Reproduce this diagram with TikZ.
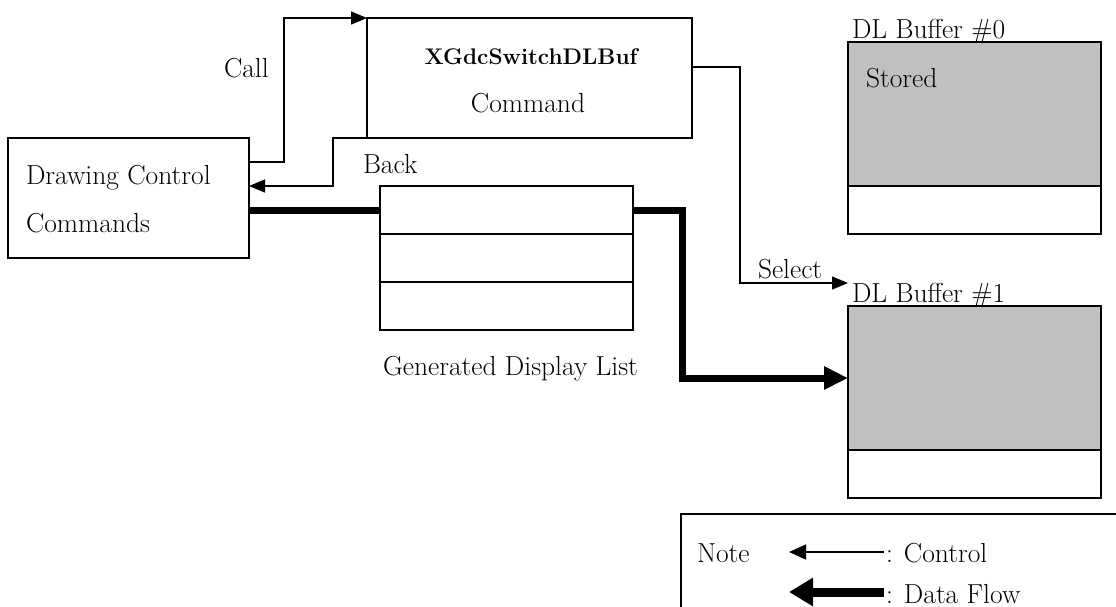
\documentclass[tikz,border=0pt]{standalone}
\usepackage{fontspec}
\usetikzlibrary{arrows.meta}
\definecolor{bufgray}{HTML}{C0C0C0}
\tikzset{
  box/.style={draw, line width=1.4pt, anchor=north west, inner sep=0pt, outer sep=0pt},
  bufbox/.style={box, line width=1.8pt, minimum width=253pt},
  lbl/.style={anchor=base west, inner sep=0pt, outer sep=0pt, font=\fontsize{27.5}{32}\selectfont},
  ctl/.style={line width=1.3pt, -{Triangle[length=16pt,width=13pt]}},
  datline/.style={line width=7pt},
  dat/.style={datline, -{Triangle[length=24pt,width=22pt]}},
}
\begin{document}
\begin{tikzpicture}[x=1pt, y=-1pt]
\useasboundingbox (0,0) rectangle (1116,606);

% boxes
\node[box, minimum width=241pt, minimum height=120pt] (dc) at (8,138) {};
\node[box, minimum width=325pt, minimum height=120pt] (cmd) at (367,18) {};
\node[box, minimum width=253pt, minimum height=48pt] (dla) at (380,186) {};
\node[box, minimum width=253pt, minimum height=48pt] (dlb) at (380,234) {};
\node[box, minimum width=253pt, minimum height=48pt] (dlc) at (380,282) {};
\node[bufbox, fill=bufgray, minimum height=144pt] (bufAtop) at (848,42) {};
\node[bufbox, minimum height=48pt] (bufAbot) at (848,186) {};
\node[bufbox, fill=bufgray, minimum height=144pt] (bufBtop) at (848,306) {};
\node[bufbox, minimum height=48pt] (bufBbot) at (848,450) {};
\node[box, minimum width=480pt, minimum height=120pt] (legend) at (681,514) {};

% texts
\node[lbl] (tdc1) at (26,184) {Drawing Control};
\node[lbl] (tdc2) at (26,232) {Commands};
\node[lbl, anchor=base, font=\fontsize{22.6}{26}\selectfont\bfseries] (tcmd1) at (531,64) {XGdcSwitchDLBuf};
\node[lbl, anchor=base] (tcmd2) at (528,112) {Command};
\node[lbl] (tcall) at (224,77) {Call};
\node[lbl] (tback) at (363,173) {Back};
\node[lbl] (tgen) at (383,375) {Generated Display List};
\node[lbl] (tbufA) at (852,38) {DL Buffer \#0};
\node[lbl] (tstored) at (866,87) {Stored};
\node[lbl] (tsel) at (758,278) {Select};
\node[lbl] (tbufB) at (852,302) {DL Buffer \#1};
\node[lbl] (tnote) at (697,562) {Note};
\node[lbl] (tctl) at (886,562) {: Control};
\node[lbl] (tdat) at (886,603) {: Data Flow};

% control connectors
\coordinate (callturn) at (284,162);
\draw[ctl] (dc.east |- callturn) -- (callturn) |- (cmd.north west);
\coordinate (backturn) at (333,138);
\draw[ctl] (cmd.south west) -- (backturn) |- (dc.east |- dla.north);
\coordinate (selturn) at (740,67);
\coordinate (selend) at (848,283);
\draw[ctl] (cmd.east |- selturn) -- (selturn) |- (selend);

% data flow connectors
\draw[datline] (dc.east |- dla.west) -- (dla.west);
\coordinate (dataturn) at (682,210);
\draw[dat] (dla.east) -- (dataturn) |- (bufBtop.west);

% legend arrows
\coordinate (ctlA) at (884,552);
\coordinate (ctlB) at (789,552);
\draw[ctl, -{Triangle[length=17pt,width=15pt]}] (ctlA) -- (ctlB);
\coordinate (datA) at (884,592);
\coordinate (datB) at (789,592);
\draw[dat, line width=9pt, -{Triangle[length=24pt,width=27pt]}] (datA) -- (datB);
\end{tikzpicture}
\end{document}
